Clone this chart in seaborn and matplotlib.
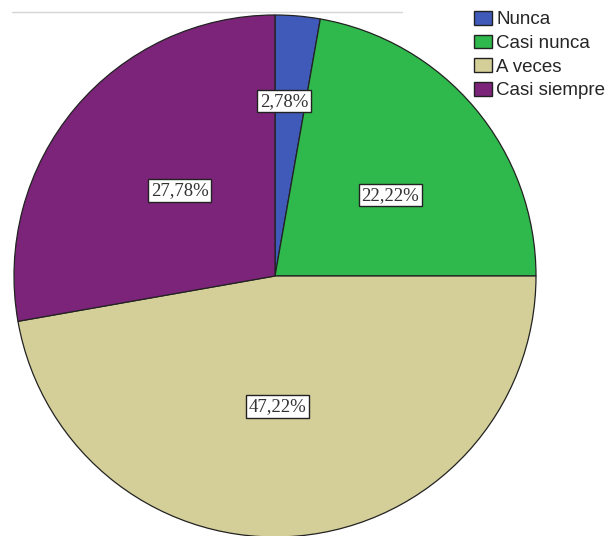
import matplotlib
matplotlib.use("Agg")
import matplotlib.pyplot as plt
from matplotlib.lines import Line2D
from matplotlib.patches import Patch
import numpy as np
import seaborn as sns

# Response categories and their counts (n = 36)
categories = ["Nunca", "Casi nunca", "A veces", "Casi siempre"]
counts = [1, 8, 17, 10]
colors = ["#3f5ab8", "#2fb84b", "#d4cf98", "#7c2479"]

sns.set_style("white")
palette = sns.color_palette(colors)

fig = plt.figure(figsize=(6.08, 5.36), dpi=100)
W, H = 608, 536
cx, cy, r = 275, 276, 261
ax = fig.add_axes([(cx - r) / W, (H - cy - r) / H, 2 * r / W, 2 * r / H])

wedges, texts, autotexts = ax.pie(
    counts,
    colors=palette,
    startangle=90,
    counterclock=False,
    radius=1.0,
    autopct=lambda p: f"{p:.2f}%".replace(".", ","),
    pctdistance=0.52,
    wedgeprops=dict(edgecolor="#222222", linewidth=0.9),
    textprops=dict(family="Liberation Serif", fontsize=13.5, color="#333333"),
)

# Label placement per slice: distance from centre and a small angular nudge
label_radius = [0.67, 0.54, 0.50, 0.49]
label_nudge = [2, -5, -4, -2]
for w, t, lr, dn in zip(wedges, autotexts, label_radius, label_nudge):
    ang = np.deg2rad((w.theta1 + w.theta2) / 2 + dn)
    t.set_position((lr * np.cos(ang), lr * np.sin(ang)))
    t.set_bbox(dict(facecolor="white", edgecolor="#222222", linewidth=1.0,
                    boxstyle="square,pad=0.14"))

ax.set_xlim(-1, 1)
ax.set_ylim(-1, 1)
ax.set_aspect("equal")
ax.axis("off")

# Faint frame line along the top
fig.add_artist(Line2D([12 / W, 402 / W], [1 - 12 / H, 1 - 12 / H], color="#d6d6d6", linewidth=1.0))

handles = [Patch(facecolor=c, edgecolor="#222222", linewidth=1.0) for c in palette]
fig.legend(
    handles, categories,
    loc="upper left",
    bbox_to_anchor=(474 / W, 1 - 11 / H),
    frameon=False,
    prop=dict(family="Liberation Sans", size=13.5),
    handlelength=0.95, handleheight=0.75,
    handletextpad=0.25, labelspacing=0.33,
    borderpad=0.0, borderaxespad=0.0,
)

fig.savefig("out.png", dpi=100)
